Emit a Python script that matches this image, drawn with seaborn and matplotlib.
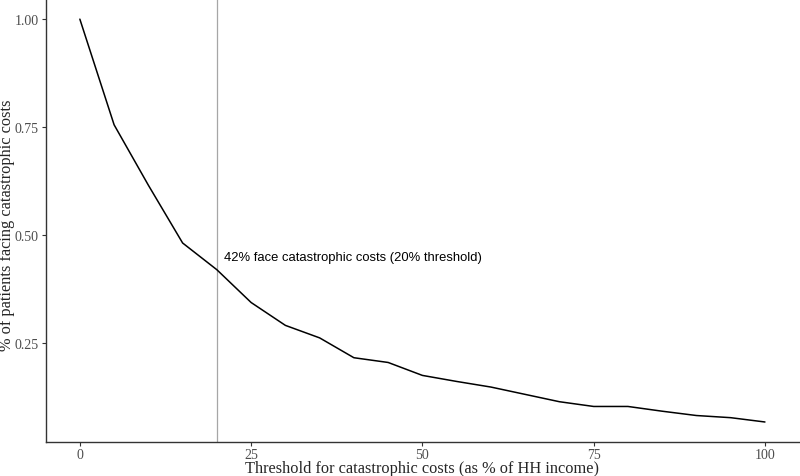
import pandas as pd
import matplotlib.pyplot as plt
import seaborn as sns

# Umbral (% del ingreso del hogar) y proporción de pacientes con costos catastróficos
threshold = [0, 5, 10, 15, 20, 25, 30, 35, 40, 45, 50,
             55, 60, 65, 70, 75, 80, 85, 90, 95, 100]
share = [1.000, 0.755, 0.615, 0.481, 0.419, 0.343, 0.290, 0.261, 0.215, 0.204, 0.174,
         0.160, 0.147, 0.130, 0.113, 0.102, 0.102, 0.091, 0.081, 0.076, 0.066]
y_ticks = [0.25, 0.50, 0.75, 1.00]
x_ticks = [0, 25, 50, 75, 100]

df = pd.DataFrame({'threshold': threshold, 'share': share})

sns.set_style("ticks")
plt.rcParams['font.family'] = ['Liberation Serif', 'DejaVu Serif']

fig = plt.figure(figsize=(8, 4.77), dpi=100)
ax = fig.add_axes([0.057, 0.071, 0.942, 0.929])

ax.axvline(20, color='#a6a6a6', linewidth=0.9, zorder=1)
sns.lineplot(data=df, x='threshold', y='share', color='black', linewidth=1.1, ax=ax, zorder=2)

ax.text(21, 0.448, '42% face catastrophic costs (20% threshold)', ha='left', va='center',
        fontsize=9.4, family=['Liberation Sans', 'DejaVu Sans'], color='black')

ax.set_xlim(-5, 105)
ax.set_ylim(0.0193, 1.0467)
ax.set_xticks(x_ticks)
ax.set_xticklabels([str(t) for t in x_ticks])
ax.set_yticks(y_ticks)
ax.set_yticklabels([f'{t:.2f}' for t in y_ticks])
ax.tick_params(axis='both', labelsize=10, colors='#333333', labelcolor='#4d4d4d',
               length=3, width=0.8)
ax.tick_params(axis='x', pad=1.5)
ax.tick_params(axis='y', pad=2)
for s in ['top', 'right']:
    ax.spines[s].set_visible(False)
for s in ['left', 'bottom']:
    ax.spines[s].set_color('#333333')
    ax.spines[s].set_linewidth(1.0)

ax.set_xlabel('Threshold for catastrophic costs (as % of HH income)', fontsize=11.8)
ax.set_ylabel('% of patients facing catastrophic costs', fontsize=11.8)
ax.xaxis.set_label_coords(0.5, -0.040)
ax.yaxis.set_label_coords(-0.041, 0.492)

fig.savefig('out.png', dpi=100)
